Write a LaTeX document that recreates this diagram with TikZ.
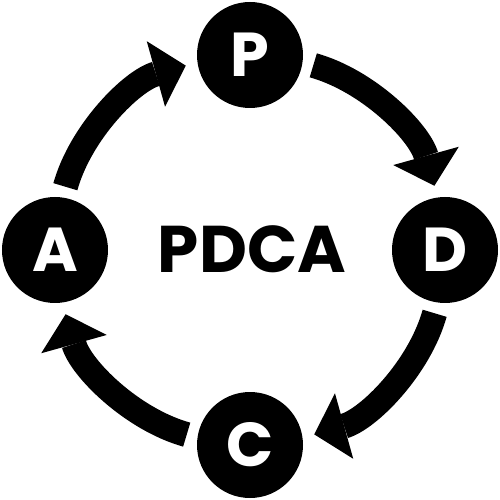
\documentclass[tikz,border=0pt]{standalone}
\usepackage{fontspec}
\setmainfont{Poppins}
\usetikzlibrary{arrows.meta}

\tikzset{
  stage/.style={circle,fill=black,text=white,minimum size=106pt,inner sep=0pt,
    font=\fontsize{62}{62}\selectfont\bfseries},
  cyc/.style={line width=25pt,-{Triangle[width=68pt,length=31pt,line width=0pt]},
    shorten <=11pt,shorten >=12pt,bend left=29.4,looseness=.91}
}

\begin{document}
\begin{tikzpicture}[x=1pt,y=1pt]
      \useasboundingbox (-250,-250) rectangle (249,250);
      \foreach \n/\a in {P/90,D/0,C/-90,A/180} {
        \node[stage] (\n) at (\a:195) {\n};
      }
      \node (title) at (2,1) {\fontsize{66}{66}\selectfont\bfseries PDCA};
      \draw[cyc] (P.-8) to (D.98);
      \draw[cyc] (D.-98) to (C.8);
      \draw[cyc] (C.172) to (A.-82);
      \draw[cyc] (A.82) to (P.188);
\end{tikzpicture}
\end{document}
